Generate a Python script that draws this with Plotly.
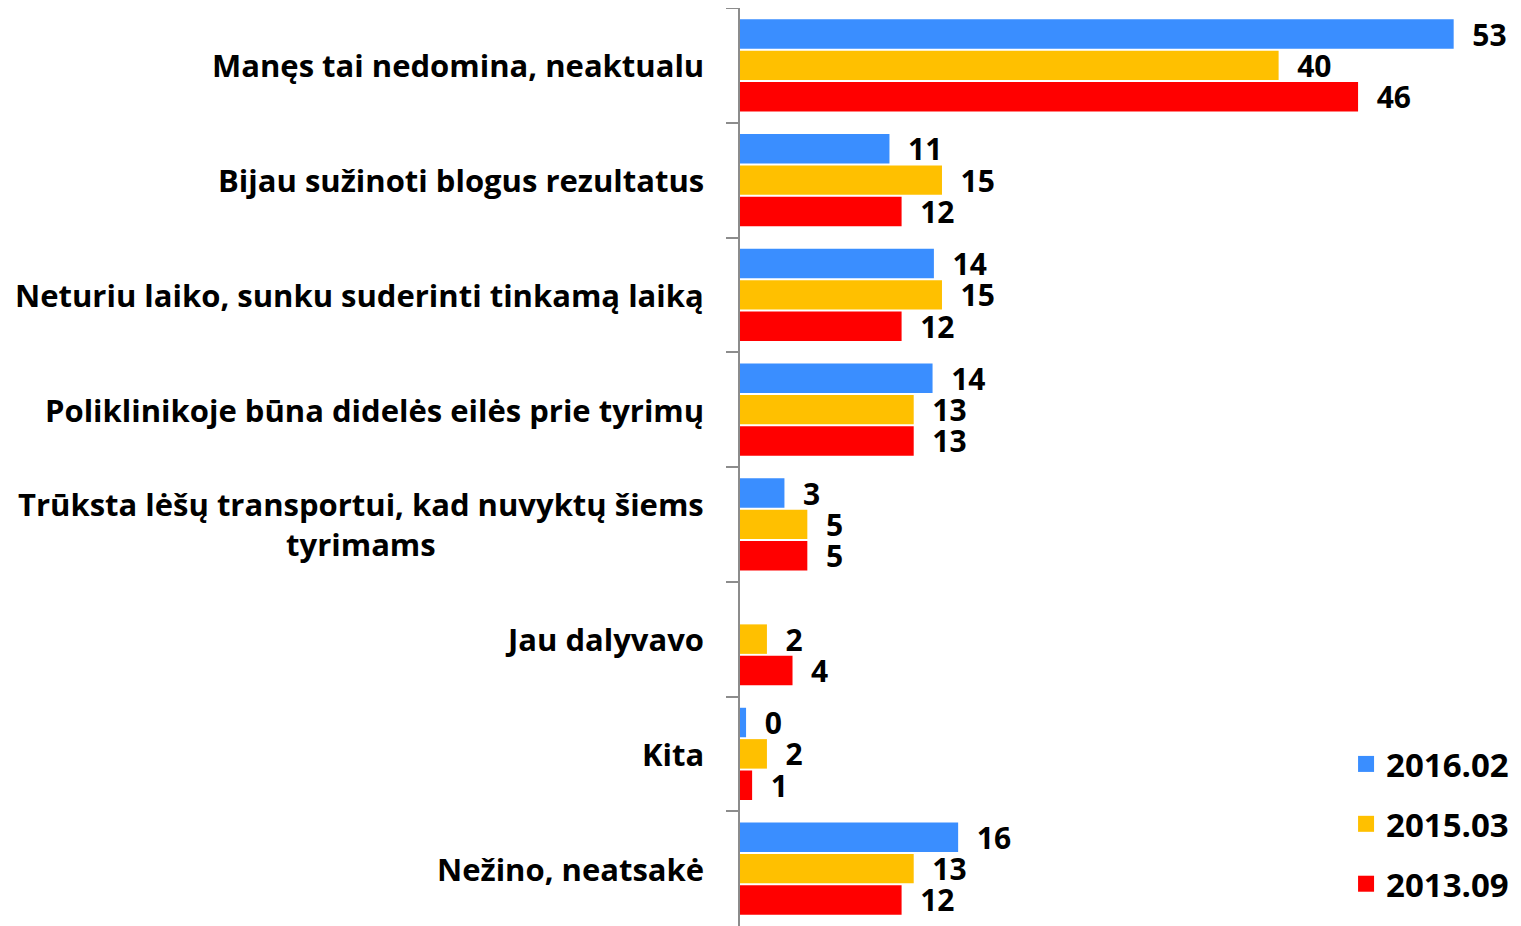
import plotly.graph_objects as go

categories = [
    "Manęs tai nedomina, neaktualu",
    "Bijau sužinoti blogus rezultatus",
    "Neturiu laiko, sunku suderinti tinkamą laiką",
    "Poliklinikoje būna didelės eilės prie tyrimų",
    "Trūksta lėšų transportui, kad nuvyktų šiems<br>tyrimams",
    "Jau dalyvavo",
    "Kita",
    "Nežino, neatsakė",
]
series_names = ["2016.02", "2015.03", "2013.09"]
v2016 = [53, 11.1, 14.4, 14.3, 3.3, None, 0.45, 16.2]
v2015 = [40, 15, 15, 12.9, 5, 2, 2, 12.9]
v2013 = [45.9, 12, 12, 12.9, 5, 3.9, 0.9, 12]
labels2016 = ["53", "11", "14", "14", "3", "", "0", "16"]
labels2015 = ["40", "15", "15", "13", "5", "2", "2", "13"]
labels2013 = ["46", "12", "12", "13", "5", "4", "1", "12"]
colors = ["#3A8EFF", "#FFC000", "#FF0000"]

FONT = "Open Sans"
fig = go.Figure()
pad = "\u00a0\u00a0"
for name, vals, labs, col in zip(series_names, [v2016, v2015, v2013],
                                 [labels2016, labels2015, labels2013], colors):
    fig.add_trace(go.Bar(
        y=categories, x=vals, orientation="h", name=name,
        marker=dict(color=col, line=dict(width=0)),
        text=[pad + t if t else "" for t in labs],
        textposition="outside", cliponaxis=False, constraintext="none",
        textfont=dict(family=FONT, size=30, color="black", weight="bold"),
        showlegend=False,
    ))
for name, col in zip(series_names, colors):
    fig.add_trace(go.Scatter(
        x=[None], y=[None], mode="markers", name=name, legendgroup=name,
        marker=dict(symbol="square", size=20, color=col),
        showlegend=True,
    ))

for c in categories:
    fig.add_annotation(
        x=0, xref="paper", y=c, yref="y", xanchor="right", yanchor="middle",
        xshift=-34, text=c, showarrow=False, align="center",
        font=dict(family=FONT, size=31, color="black", weight="bold"),
    )

fig.update_layout(
    width=1513, height=918,
    margin=dict(l=732, r=0, t=0, b=0),
    paper_bgcolor="white", plot_bgcolor="white",
    barmode="group", bargap=0.18, bargroupgap=0.06,
    font=dict(family=FONT, color="black"),
    legend=dict(
        x=0.776, y=0.207, xanchor="left", yanchor="top",
        font=dict(family=FONT, size=33, color="black", weight="bold"),
        tracegroupgap=14, bgcolor="rgba(0,0,0,0)",
    ),
)
fig.update_xaxes(range=[0, 58], visible=False)
fig.update_yaxes(
    autorange="reversed", type="category", showticklabels=False,
    showline=True, linecolor="#8C8C8C", linewidth=2,
    ticks="outside", tickson="boundaries", ticklen=12, tickcolor="#8C8C8C",
    tickwidth=2, showgrid=False, zeroline=False,
)

fig.write_html("out.html")
